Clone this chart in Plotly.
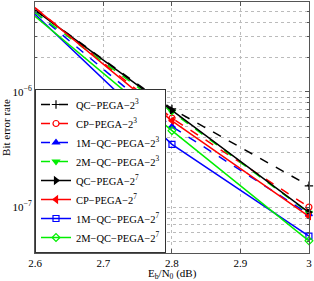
import plotly.graph_objects as go

ebn0 = [2.6, 2.8, 3.0]
names = ["QC−PEGA−2<sup>3</sup>", "CP−PEGA−2<sup>3</sup>", "1M−QC−PEGA−2<sup>3</sup>", "2M−QC−PEGA−2<sup>3</sup>",
         "QC−PEGA−2<sup>7</sup>", "CP−PEGA−2<sup>7</sup>", "1M−QC−PEGA−2<sup>7</sup>", "2M−QC−PEGA−2<sup>7</sup>"]
qc_pega_3 = [5.1e-6, 7.1e-7, 1.53e-7]
cp_pega_3 = [5.35e-6, 5.9e-7, 1.0e-7]
m1_qc_pega_3 = [4.9e-6, 5.0e-7, 8.7e-8]
m2_qc_pega_3 = [4.85e-6, 6.7e-7, 8.9e-8]
qc_pega_7 = [5.1e-6, 6.9e-7, 9.0e-8]
cp_pega_7 = [5.35e-6, 5.6e-7, 8.3e-8]
m1_qc_pega_7 = [4.7e-6, 3.5e-7, 5.6e-8]
m2_qc_pega_7 = [4.5e-6, 4.6e-7, 5.1e-8]
series = [qc_pega_3, cp_pega_3, m1_qc_pega_3, m2_qc_pega_3, qc_pega_7, cp_pega_7, m1_qc_pega_7, m2_qc_pega_7]

styles = [
    ("#000000", "dash", "cross-thin-open"),
    ("#ff0000", "dash", "circle-open"),
    ("#0000ff", "dash", "triangle-up"),
    ("#00ee00", "dash", "triangle-down"),
    ("#000000", "solid", "triangle-right"),
    ("#ff0000", "solid", "triangle-left"),
    ("#0000ff", "solid", "square-open"),
    ("#00ee00", "solid", "diamond-open"),
]

fig = go.Figure()
for name, ys, (c, d, s) in zip(names, series, styles):
    fig.add_trace(go.Scatter(x=ebn0[1:], y=ys[1:], mode="markers", showlegend=False, cliponaxis=False,
                             marker=dict(symbol=s, size=6, color=c, line=dict(color=c, width=1.2))))
    fig.add_trace(go.Scatter(x=ebn0, y=ys, mode="lines", showlegend=False,
                             line=dict(color=c, dash=d, width=1.5)))
for name, (c, d, s) in zip(names, styles):
    fig.add_trace(go.Scatter(x=[None], y=[None], mode="lines+markers", name=name,
                             line=dict(color=c, dash=d, width=1.5),
                             marker=dict(symbol=s, size=6, color=c, line=dict(color=c, width=1.2))))

minor_y = [4e-8, 5e-8, 6e-8, 7e-8, 8e-8, 9e-8, 2e-7, 3e-7, 4e-7, 5e-7, 6e-7, 7e-7, 8e-7, 9e-7,
           2e-6, 3e-6, 4e-6, 5e-6, 6e-6]
font = "Liberation Serif, Times New Roman, serif"
fig.update_layout(
    width=314, height=281,
    margin=dict(l=35, r=5, t=2, b=28),
    paper_bgcolor="white", plot_bgcolor="white",
    font=dict(family=font, size=11, color="black"),
    xaxis=dict(range=[2.6, 3.0001], tickvals=[2.6, 2.7, 2.8, 2.9, 3.0],
               ticktext=["2.6", "2.7", "2.8", "2.9", "3"],
               showline=True, linecolor="#555", linewidth=1, mirror="allticks",
               ticks="inside", ticklen=4, tickcolor="#555",
               showgrid=True, gridcolor="#bbbbbb", griddash="dot", gridwidth=1,
               zeroline=False),
    yaxis=dict(type="log", range=[-7.398, -5.222], tickvals=[1e-7, 1e-6],
               ticktext=["10<sup>−7</sup>", "10<sup>−6</sup>"],
               showline=True, linecolor="#555", linewidth=1, mirror="allticks",
               ticks="inside", ticklen=4, tickcolor="#555",
               showgrid=True, gridcolor="#bbbbbb", griddash="dot", gridwidth=1,
               minor=dict(tickvals=minor_y, ticks="inside", ticklen=2, tickcolor="#555",
                          showgrid=True, gridcolor="#bbbbbb", griddash="dot", gridwidth=1),
               zeroline=False,
               title=dict(text="Bit error rate", standoff=4, font=dict(size=11))),
    legend=dict(x=0, y=0, xanchor="left", yanchor="bottom", bgcolor="white",
                bordercolor="#333", borderwidth=1, font=dict(family=font, size=10.5),
                tracegroupgap=0, itemwidth=30),
    annotations=[dict(text="E<sub>b</sub>/N<sub>0</sub> (dB)", xref="paper", yref="paper",
                      x=0.5, y=0, yanchor="top", yshift=-12, showarrow=False,
                      font=dict(family=font, size=11))],
)
fig.write_html("out.html", config={"displayModeBar": False},
               post_script="document.body.style.margin='0';document.body.style.overflow='hidden';")
